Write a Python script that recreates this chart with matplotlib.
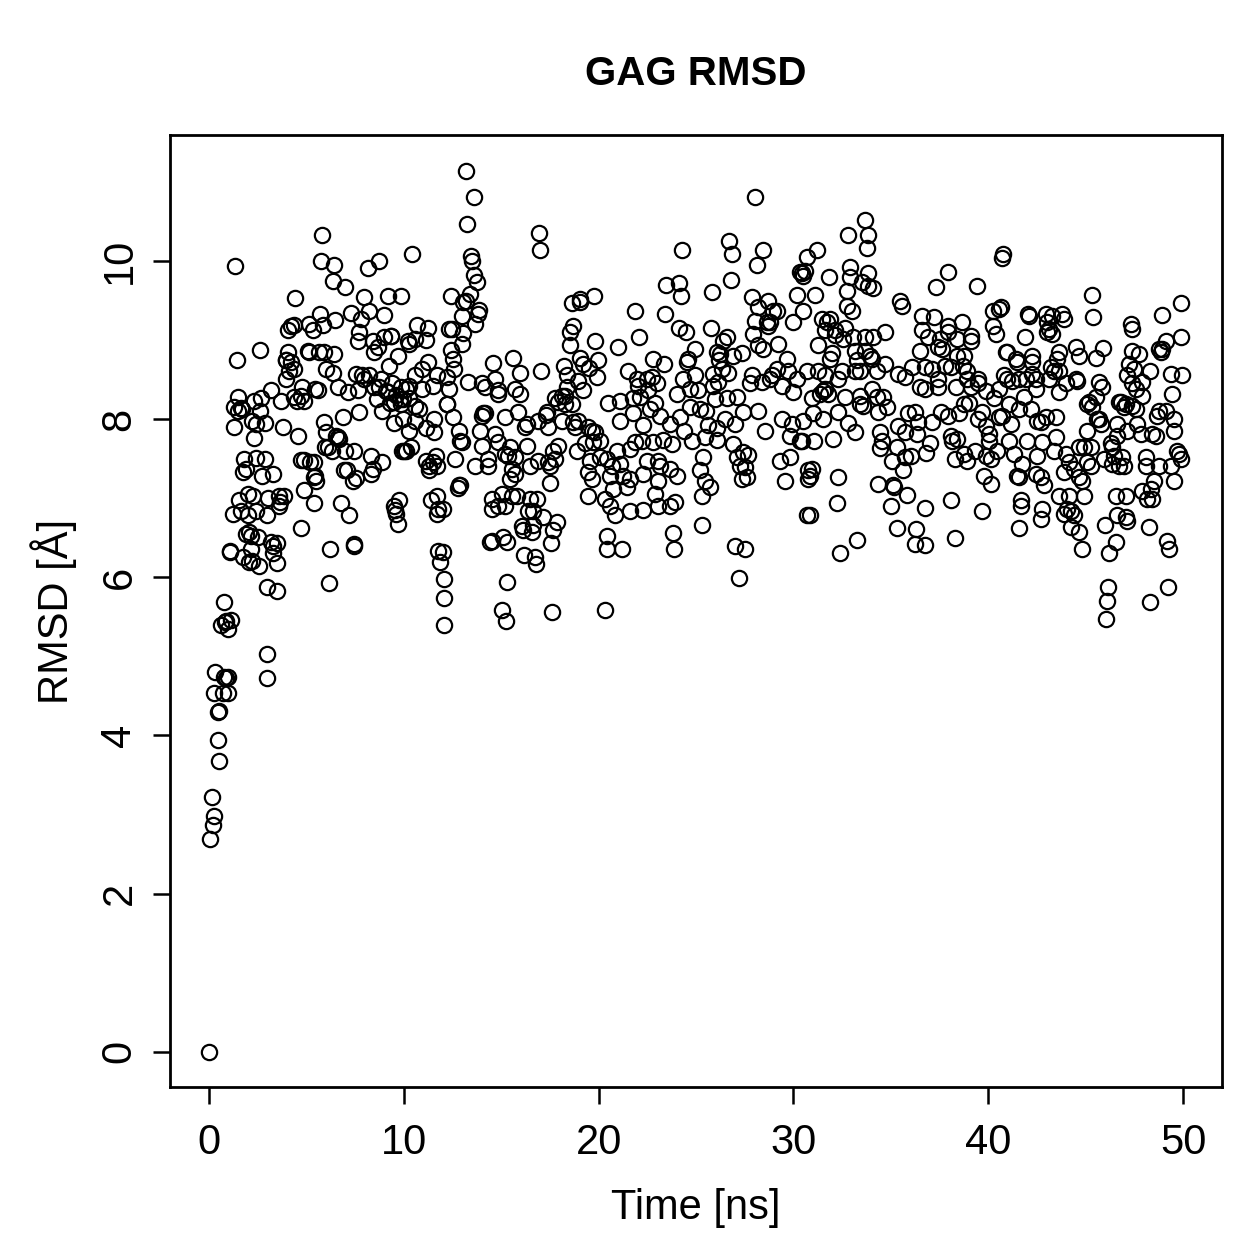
import numpy as np
import matplotlib
matplotlib.use("Agg")
import matplotlib.pyplot as plt

# (time [ns], rmsd [A]), grouped by 10 ns blocks
pts_00_10 = [
    (0.0, 0.0), (0.05, 2.69), (0.2, 2.87), (0.26, 2.98), (0.15, 3.22), (0.51, 3.67), (0.46, 3.94),
    (0.46, 4.3), (0.5, 4.31), (0.26, 4.53), (0.72, 4.54), (0.97, 4.54), (0.31, 4.8), (0.77, 4.74),
    (0.87, 4.73), (0.97, 4.74), (0.6, 5.4), (0.8, 5.43), (1.0, 5.35), (1.15, 5.46), (0.9, 5.45),
    (0.77, 5.69), (1.08, 6.33), (1.1, 6.32), (1.74, 6.26), (2.05, 6.19), (2.56, 6.14), (2.15, 6.36),
    (2.97, 5.03), (3.0, 4.72), (3.0, 5.88), (3.5, 5.83), (6.15, 5.93), (3.2, 6.45), (3.3, 6.4),
    (3.5, 6.43), (3.3, 6.3), (3.48, 6.18), (4.7, 6.62), (6.2, 6.35), (7.43, 6.42), (7.45, 6.4),
    (2.05, 6.57), (2.5, 6.51), (2.15, 6.52), (1.54, 6.97), (2.0, 7.05), (2.25, 7.03), (1.23, 6.8),
    (1.64, 6.83), (2.0, 6.78), (2.4, 6.83), (2.97, 6.78), (3.59, 7.03), (3.84, 7.03), (3.59, 6.9),
    (3.64, 6.95), (4.87, 7.1), (5.38, 6.94), (6.76, 6.94), (7.17, 6.78), (1.8, 7.5), (2.4, 7.51),
    (2.87, 7.5), (1.74, 7.33), (1.9, 7.37), (2.7, 7.28), (3.28, 7.31), (4.71, 7.48), (5.38, 7.46),
    (5.43, 7.28), (5.48, 7.22), (5.38, 7.27), (7.1, 7.35), (7.38, 7.22), (8.3, 7.53), (8.9, 7.46),
    (8.3, 7.3), (8.4, 7.37), (9.5, 6.9), (9.55, 6.85), (9.6, 6.8), (9.7, 6.67), (9.75, 6.97),
    (1.28, 7.9), (2.3, 7.76), (3.8, 7.9), (4.56, 7.78), (1.28, 8.15), (1.5, 8.1), (1.7, 8.12),
    (2.3, 8.23), (2.6, 8.1), (2.9, 7.95), (2.2, 7.98), (2.4, 7.93), (5.9, 7.96), (6.9, 8.03),
    (7.7, 8.09), (6.0, 7.84), (6.5, 7.79), (6.6, 7.77), (6.3, 7.6), (7.0, 7.6), (6.1, 7.65),
    (7.43, 7.6), (9.9, 7.6), (10.0, 7.59), (5.79, 10.32), (1.33, 9.94), (5.74, 10.0), (6.4, 9.95),
    (8.71, 10.0), (8.15, 9.91), (6.35, 9.75), (6.97, 9.67), (4.41, 9.53), (7.94, 9.54), (9.17, 9.56),
    (9.84, 9.56), (5.69, 9.33), (6.45, 9.25), (7.27, 9.34), (8.2, 9.36), (7.79, 9.27), (8.97, 9.32),
    (9.32, 9.05), (7.68, 9.1), (4.05, 9.12), (4.2, 9.18), (4.35, 9.19), (5.12, 9.2), (5.33, 9.12),
    (5.84, 9.19), (7.63, 8.98), (8.4, 8.98), (8.66, 8.91), (8.45, 8.85), (9.22, 8.67), (9.68, 8.8),
    (2.61, 8.87), (1.43, 8.74), (4.05, 8.85), (3.94, 8.74), (4.2, 8.72), (4.1, 8.61), (3.94, 8.51),
    (4.35, 8.63), (5.07, 8.86), (5.12, 8.85), (5.64, 8.85), (5.89, 8.85), (6.4, 8.82), (5.99, 8.63),
    (6.35, 8.58), (7.53, 8.57), (7.94, 8.51), (8.81, 8.51), (3.18, 8.37), (2.66, 8.26), (1.49, 8.28),
    (3.69, 8.23), (4.35, 8.28), (4.71, 8.29), (4.87, 8.23), (5.58, 8.37), (6.61, 8.41), (7.12, 8.34),
    (7.63, 8.36), (8.45, 8.41), (9.17, 8.34), (9.48, 8.22), (1.64, 8.14), (4.5, 8.23), (4.9, 7.48),
    (5.2, 7.45), (5.95, 7.65), (6.7, 7.75), (6.95, 7.35), (7.55, 7.25), (9.1, 8.35), (9.3, 8.2),
    (9.4, 8.45), (9.8, 8.25), (9.85, 8.4), (9.95, 8.25), (9.6, 8.3), (9.0, 9.03), (9.35, 9.05),
    (8.6, 8.25), (8.75, 8.4), (8.2, 8.55), (7.85, 8.55), (3.95, 8.75), (4.8, 8.4), (5.45, 8.38),
    (9.84, 8.19), (9.94, 8.0), (3.05, 7.0), (1.9, 6.55), (2.2, 6.2), (9.5, 7.95), (8.9, 8.1),
]

pts_10_20 = [
    (13.2, 11.14), (13.58, 10.81), (13.27, 10.46), (16.96, 10.35), (17.0, 10.14), (10.4, 10.09),
    (13.47, 10.06), (13.52, 10.0), (13.63, 9.82), (13.78, 9.73), (12.4, 9.56), (13.42, 9.58),
    (13.17, 9.49), (13.06, 9.48), (13.88, 9.38), (13.83, 9.33), (13.68, 9.2), (19.77, 9.56),
    (18.65, 9.46), (19.06, 9.52), (19.06, 9.48), (10.7, 9.19), (11.22, 9.15), (10.25, 8.95),
    (10.6, 9.01), (11.12, 9.0), (10.2, 8.98), (12.3, 9.14), (12.5, 9.14), (13.06, 9.09),
    (13.0, 8.95), (12.4, 8.87), (12.55, 8.76), (12.6, 8.63), (18.55, 9.1), (18.7, 9.17),
    (18.55, 8.93), (19.83, 8.98), (15.6, 8.77), (14.6, 8.71), (15.98, 8.58), (17.06, 8.61),
    (18.2, 8.67), (18.4, 8.55), (19.06, 8.77), (19.2, 8.7), (19.98, 8.75), (19.93, 8.53),
    (18.95, 8.48), (19.2, 8.36), (11.22, 8.72), (10.96, 8.63), (10.6, 8.55), (10.25, 8.42),
    (10.09, 8.38), (10.96, 8.38), (11.48, 8.42), (11.73, 8.55), (12.24, 8.53), (12.3, 8.38),
    (12.24, 8.19), (13.32, 8.47), (14.04, 8.45), (14.19, 8.41), (14.7, 8.51), (14.86, 8.36),
    (14.86, 8.32), (15.73, 8.38), (15.98, 8.32), (17.78, 8.26), (18.13, 8.29), (18.29, 8.29),
    (12.04, 5.39), (12.04, 5.74), (12.09, 5.98), (11.88, 6.19), (11.78, 6.33), (11.99, 6.32),
    (15.06, 5.59), (15.27, 5.45), (17.62, 5.56), (15.32, 5.94), (14.45, 6.45), (14.55, 6.46),
    (15.11, 6.51), (16.19, 6.28), (16.75, 6.25), (16.8, 6.17), (16.14, 6.59), (16.6, 6.57),
    (16.09, 6.65), (16.65, 6.66), (17.16, 6.76), (17.88, 6.7), (17.67, 6.59), (17.57, 6.43),
    (11.73, 7.02), (11.78, 6.86), (11.73, 6.8), (11.99, 6.86), (12.76, 7.13), (12.81, 7.16),
    (12.91, 7.17), (14.55, 6.99), (15.06, 7.05), (15.57, 7.03), (15.83, 7.02), (14.55, 6.86),
    (14.86, 6.9), (15.22, 6.9), (16.5, 6.99), (16.85, 6.99), (16.4, 6.83), (16.65, 6.83),
    (17.52, 7.19), (19.47, 7.03), (15.47, 7.24), (15.73, 7.31), (15.57, 7.37), (15.37, 7.53),
    (15.73, 7.52), (15.47, 7.65), (15.22, 7.56), (16.5, 7.41), (16.91, 7.47), (17.42, 7.46),
    (17.78, 7.5), (17.93, 7.66), (16.34, 7.66), (17.67, 7.59), (17.52, 7.41), (18.9, 7.59),
    (19.57, 7.47), (19.47, 7.33), (19.67, 7.24), (19.31, 7.69), (19.67, 7.85), (11.12, 7.47),
    (11.27, 7.35), (11.48, 7.46), (11.63, 7.53), (11.73, 7.41), (11.27, 7.41), (10.09, 7.59),
    (10.35, 7.65), (12.65, 7.5), (13.68, 7.4), (14.34, 7.5), (14.34, 7.4), (14.04, 7.66),
    (14.7, 7.81), (14.86, 7.71), (12.81, 7.85), (12.91, 7.72), (12.55, 8.03), (13.01, 7.71),
    (14.04, 8.04), (14.19, 8.07), (15.22, 8.03), (15.88, 8.09), (16.34, 7.94), (16.24, 7.9),
    (16.9, 7.98), (17.37, 8.09), (17.42, 7.9), (18.14, 7.98), (18.7, 7.96), (18.8, 7.9),
    (18.95, 7.98), (19.47, 7.9), (19.83, 7.84), (19.72, 7.71), (10.25, 8.26), (10.6, 8.17),
    (10.76, 8.13), (10.6, 7.98), (10.25, 7.85), (11.12, 7.88), (11.53, 7.84), (11.53, 8.0),
    (12.24, 8.19), (14.09, 8.07), (13.93, 7.85), (17.93, 8.22), (18.29, 8.19), (18.65, 8.19),
    (11.4, 6.98), (13.0, 9.3), (15.3, 6.45), (17.3, 8.05), (18.4, 8.4), (19.5, 8.65),
]

pts_20_30 = [
    (28.02, 10.81), (26.69, 10.25), (26.84, 10.08), (24.28, 10.13), (28.43, 10.13), (28.13, 9.95),
    (26.79, 9.76), (23.46, 9.69), (24.13, 9.72), (24.23, 9.56), (25.82, 9.6), (27.87, 9.54),
    (28.18, 9.41), (28.69, 9.49), (28.94, 9.36), (29.15, 9.36), (29.97, 9.23), (28.02, 9.24),
    (28.64, 9.23), (28.69, 9.17), (28.79, 9.23), (27.92, 9.08), (28.18, 8.93), (28.43, 8.89),
    (29.2, 8.95), (21.88, 9.36), (23.41, 9.33), (24.13, 9.15), (24.49, 9.1), (25.77, 9.15),
    (22.08, 9.04), (21.0, 8.91), (24.95, 8.89), (24.59, 8.76), (24.54, 8.72), (22.8, 8.76),
    (23.36, 8.69), (26.38, 8.99), (26.59, 9.04), (26.08, 8.85), (26.23, 8.82), (26.9, 8.8),
    (27.36, 8.84), (26.18, 8.74), (29.66, 8.76), (29.15, 8.63), (29.71, 8.6), (27.87, 8.55),
    (28.38, 8.47), (28.79, 8.51), (28.89, 8.55), (21.98, 8.51), (22.03, 8.42), (22.49, 8.51),
    (22.75, 8.53), (24.33, 8.51), (24.95, 8.55), (25.87, 8.57), (26.33, 8.63), (26.64, 8.58),
    (21.77, 8.26), (22.13, 8.28), (22.54, 8.36), (21.11, 8.23), (24.03, 8.32), (24.69, 8.38),
    (25.1, 8.36), (25.87, 8.42), (26.13, 8.47), (26.59, 8.26), (27.1, 8.28), (27.77, 8.45),
    (29.41, 8.42), (29.97, 8.34), (20.34, 5.59), (27.2, 5.99), (27.0, 6.4), (27.51, 6.36),
    (20.44, 6.52), (20.44, 6.36), (21.21, 6.35), (23.82, 6.56), (23.87, 6.36), (25.31, 6.66),
    (20.34, 6.99), (20.59, 6.9), (20.85, 6.78), (21.62, 6.83), (22.28, 6.85), (23.05, 6.9),
    (23.67, 6.9), (23.92, 6.95), (25.31, 7.02), (25.72, 7.14), (25.46, 7.22), (25.2, 7.36),
    (25.36, 7.52), (22.9, 7.05), (23.05, 7.21), (24.03, 7.28), (23.67, 7.37), (23.15, 7.4),
    (20.75, 7.12), (21.46, 7.14), (21.62, 7.24), (21.26, 7.28), (20.59, 7.28), (20.69, 7.4),
    (21.11, 7.43), (22.28, 7.31), (22.49, 7.47), (23.05, 7.47), (20.08, 7.72), (20.08, 7.52),
    (20.44, 7.49), (20.95, 7.59), (21.62, 7.62), (21.88, 7.71), (22.23, 7.72), (22.8, 7.71),
    (23.31, 7.74), (23.77, 7.68), (24.8, 7.72), (25.46, 7.77), (26.08, 7.74), (26.9, 7.68),
    (27.41, 7.58), (27.66, 7.55), (27.1, 7.52), (27.25, 7.4), (27.51, 7.39), (27.36, 7.24),
    (27.61, 7.26), (29.56, 7.21), (29.3, 7.47), (29.82, 7.52), (21.11, 7.98), (21.77, 8.07),
    (22.28, 7.92), (22.64, 8.13), (23.15, 8.04), (23.67, 7.94), (24.18, 8.03), (24.69, 8.15),
    (25.2, 8.13), (25.61, 7.92), (26.08, 7.88), (26.49, 8.0), (27.0, 7.94), (27.41, 8.09),
    (28.53, 7.85), (29.41, 8.0), (29.92, 7.94), (29.82, 7.79), (20.5, 8.2), (22.9, 8.2),
    (24.4, 7.85), (26.0, 8.25), (28.2, 8.1), (21.5, 8.6), (23.0, 8.45), (25.5, 8.1),
]

pts_30_40 = [
    (30.48, 7.98), (30.43, 7.72), (30.33, 7.72), (30.74, 7.36), (30.74, 7.24), (30.69, 6.79),
    (30.69, 10.05), (30.33, 9.86), (30.43, 9.84), (30.58, 9.87), (30.48, 9.81), (30.17, 9.57),
    (30.48, 9.37), (30.69, 8.61), (30.17, 8.51), (33.66, 10.51), (32.79, 10.32), (33.81, 10.32),
    (33.76, 10.16), (31.2, 10.13), (32.89, 9.92), (32.89, 9.8), (33.81, 9.84), (33.5, 9.73),
    (33.81, 9.68), (34.07, 9.66), (31.81, 9.8), (37.91, 9.86), (37.3, 9.67), (39.4, 9.68),
    (32.74, 9.62), (31.1, 9.57), (32.74, 9.43), (33.0, 9.37), (35.45, 9.49), (35.55, 9.43),
    (31.46, 9.27), (31.86, 9.27), (31.71, 9.23), (32.63, 9.15), (32.12, 9.13), (31.61, 9.12),
    (33.04, 9.04), (32.53, 9.01), (32.12, 9.06), (31.25, 8.93), (31.97, 8.83), (31.86, 8.76),
    (33.15, 8.86), (33.66, 8.86), (33.91, 8.79), (34.68, 9.1), (34.07, 9.04), (33.66, 9.04),
    (36.58, 9.3), (37.24, 9.29), (37.91, 9.18), (38.63, 9.23), (36.58, 9.12), (36.89, 9.04),
    (37.5, 9.01), (37.91, 9.1), (38.42, 9.01), (39.14, 9.05), (39.14, 8.99), (36.48, 8.86),
    (37.4, 8.91), (37.65, 8.89), (38.42, 8.8), (38.78, 8.8), (31.25, 8.61), (31.61, 8.55),
    (32.48, 8.61), (32.27, 8.51), (33.15, 8.61), (33.4, 8.61), (34.27, 8.6), (34.68, 8.7),
    (34.02, 8.76), (33.25, 8.74), (31.61, 8.38), (31.35, 8.32), (31.5, 8.35), (31.76, 8.32),
    (32.63, 8.28), (33.4, 8.29), (34.02, 8.38), (34.27, 8.28), (34.58, 8.28), (35.35, 8.57),
    (35.71, 8.53), (36.07, 8.66), (36.73, 8.66), (37.09, 8.63), (37.4, 8.51), (37.76, 8.67),
    (38.11, 8.66), (38.68, 8.67), (38.93, 8.61), (38.93, 8.51), (39.45, 8.51), (36.48, 8.41),
    (36.73, 8.38), (37.4, 8.41), (38.37, 8.41), (39.14, 8.41), (39.45, 8.45), (39.91, 8.35),
    (32.38, 6.3), (33.25, 6.47), (30.84, 6.78), (32.22, 6.94), (32.27, 7.26), (30.84, 7.28),
    (30.94, 7.37), (35.3, 6.62), (36.27, 6.61), (36.22, 6.42), (36.73, 6.41), (38.27, 6.49),
    (34.99, 6.9), (35.81, 7.04), (36.78, 6.88), (38.11, 6.98), (39.7, 6.83), (34.32, 7.18),
    (35.09, 7.16), (35.14, 7.14), (35.6, 7.35), (35.04, 7.47), (35.71, 7.52), (36.02, 7.53),
    (36.83, 7.57), (31.05, 7.72), (32.02, 7.75), (33.15, 7.84), (32.27, 8.09), (33.4, 8.19),
    (33.56, 8.17), (34.32, 8.09), (34.43, 7.84), (34.53, 7.72), (34.43, 7.63), (35.3, 7.65),
    (35.35, 7.91), (35.71, 7.84), (35.86, 8.07), (36.22, 8.09), (36.37, 7.96), (37.09, 7.96),
    (37.6, 8.09), (37.91, 8.04), (38.52, 8.07), (38.78, 8.19), (36.32, 7.81), (38.11, 7.79),
    (38.16, 7.72), (38.42, 7.75), (38.27, 7.5), (38.93, 7.47), (38.78, 7.56), (39.3, 7.6),
    (39.91, 7.53), (39.8, 7.28), (39.7, 8.09), (39.45, 8.0), (39.91, 7.91), (30.94, 8.26),
    (30.99, 8.07), (31.5, 8.0), (32.8, 7.95), (34.8, 8.15), (37.0, 7.7), (39.0, 8.2),
]

pts_40_50 = [
    (40.16, 7.5), (40.16, 7.18), (40.06, 7.81), (40.06, 7.72), (40.57, 8.03), (40.47, 7.59),
    (40.22, 9.36), (40.68, 9.42), (40.57, 9.39), (40.22, 9.17), (40.42, 9.08), (40.98, 8.85),
    (40.32, 8.26), (40.57, 8.38), (40.83, 8.55), (40.98, 8.51), (40.78, 10.09), (40.73, 10.03),
    (45.34, 9.57), (49.9, 9.46), (45.39, 9.29), (48.92, 9.32), (42.06, 9.33), (42.11, 9.3),
    (42.98, 9.33), (43.29, 9.3), (43.8, 9.33), (43.9, 9.27), (43.03, 9.23), (43.14, 9.14),
    (43.29, 9.08), (43.03, 9.1), (47.34, 9.2), (47.39, 9.14), (48.92, 8.89), (49.13, 8.98),
    (48.87, 8.85), (49.9, 9.04), (41.9, 9.03), (40.93, 8.85), (41.44, 8.76), (41.5, 8.72),
    (42.26, 8.8), (42.26, 8.72), (43.65, 8.85), (44.52, 8.91), (44.67, 8.8), (43.55, 8.76),
    (43.24, 8.66), (43.65, 8.61), (45.54, 8.77), (47.39, 8.86), (47.75, 8.82), (47.23, 8.7),
    (47.49, 8.63), (47.13, 8.55), (48.77, 8.89), (49.39, 8.57), (49.95, 8.55), (49.44, 8.32),
    (41.24, 8.48), (41.6, 8.51), (42.26, 8.57), (42.47, 8.51), (41.96, 8.51), (43.14, 8.51),
    (43.39, 8.61), (44.52, 8.51), (44.57, 8.48), (45.7, 8.47), (45.85, 8.41), (45.54, 8.28),
    (45.18, 8.22), (43.65, 8.34), (42.47, 8.38), (41.85, 8.28), (47.39, 8.45), (47.59, 8.38),
    (47.9, 8.47), (47.9, 8.29), (46.82, 8.22), (47.08, 8.19), (46.06, 5.47), (46.11, 5.7),
    (46.16, 5.88), (48.31, 5.69), (49.23, 5.88), (46.21, 6.3), (46.57, 6.45), (44.83, 6.35),
    (44.67, 6.57), (44.26, 6.64), (43.9, 6.8), (44.26, 6.83), (44.42, 6.78), (44.06, 6.86),
    (41.6, 6.62), (41.7, 6.9), (41.7, 6.97), (42.73, 6.74), (42.78, 6.86), (43.65, 7.03),
    (44.16, 7.03), (44.93, 7.03), (46.0, 6.66), (46.62, 6.78), (47.08, 6.76), (47.13, 6.71),
    (46.57, 7.02), (47.08, 7.02), (48.26, 6.64), (49.18, 6.46), (49.28, 6.36), (47.9, 7.09),
    (48.16, 6.99), (48.41, 6.99), (48.51, 7.22), (48.36, 7.12), (49.54, 7.22), (41.6, 7.27),
    (42.47, 7.31), (42.73, 7.27), (42.88, 7.16), (44.01, 7.56), (44.16, 7.46), (43.9, 7.33),
    (44.42, 7.37), (44.67, 7.27), (44.83, 7.21), (45.08, 7.46), (45.29, 7.4), (44.93, 7.65),
    (45.29, 7.65), (44.67, 7.65), (45.08, 7.85), (45.95, 7.5), (46.37, 7.43), (46.72, 7.4),
    (46.98, 7.41), (46.47, 7.53), (46.37, 7.65), (46.31, 7.69), (46.62, 7.79), (46.88, 7.52),
    (48.1, 7.52), (48.1, 7.4), (48.77, 7.41), (49.39, 7.41), (49.8, 7.56), (49.69, 7.6),
    (49.9, 7.5), (41.34, 7.56), (41.75, 7.43), (42.52, 7.53), (43.39, 7.6), (43.5, 7.77),
    (42.78, 7.71), (42.01, 7.72), (41.09, 7.72), (41.5, 7.28), (40.73, 8.04), (41.19, 7.94),
    (41.6, 8.13), (42.21, 8.13), (42.52, 7.98), (42.73, 7.96), (42.98, 8.03), (43.5, 8.03),
    (41.09, 8.19), (45.59, 8.0), (45.8, 7.94), (46.62, 7.94), (47.13, 7.85), (47.64, 7.94),
    (47.85, 7.81), (48.41, 7.81), (48.67, 8.04), (49.13, 8.1), (49.54, 8.0), (49.54, 7.85),
    (48.62, 7.79), (45.08, 8.19), (45.34, 8.15), (45.7, 8.0), (46.72, 8.22), (46.98, 8.15),
    (47.39, 8.17), (47.59, 8.13), (48.77, 8.1), (44.0, 8.45), (48.3, 8.6), (45.9, 8.9),
]

blocks = (pts_00_10, pts_10_20, pts_20_30, pts_30_40, pts_40_50)
time_ns = np.array([p[0] for blk in blocks for p in blk])
rmsd = np.array([p[1] for blk in blocks for p in blk])

plt.rcParams["font.family"] = ["Liberation Sans", "DejaVu Sans"]

fig = plt.figure(figsize=(1259 / 200, 1259 / 200), dpi=200)
ax = fig.add_axes([170 / 1259, 1 - 1087 / 1259, (1222 - 170) / 1259, (1087 - 135) / 1259])

ax.plot(time_ns, rmsd, "o", ms=5.5, mfc="none", mec="black", mew=0.8, linestyle="none")

ax.set_xlim(-2, 52)
ax.set_ylim(-0.446, 11.59)
ax.set_xticks([0, 10, 20, 30, 40, 50])
ax.set_yticks([0, 2, 4, 6, 8, 10])
ax.tick_params(axis="both", direction="out", length=6, width=0.9, labelsize=15, pad=7)
ax.tick_params(axis="y", pad=5)
for lbl in ax.get_yticklabels():
    lbl.set_rotation(90)
    lbl.set_va("center")
for s in ax.spines.values():
    s.set_linewidth(1.0)

ax.set_xlabel("Time [ns]", fontsize=15, labelpad=9)
ax.set_ylabel("RMSD [Å]", fontsize=15, labelpad=8)
ax.set_title("GAG RMSD", fontsize=14.5, fontweight="bold", pad=18)

fig.savefig("out.png", dpi=200)
